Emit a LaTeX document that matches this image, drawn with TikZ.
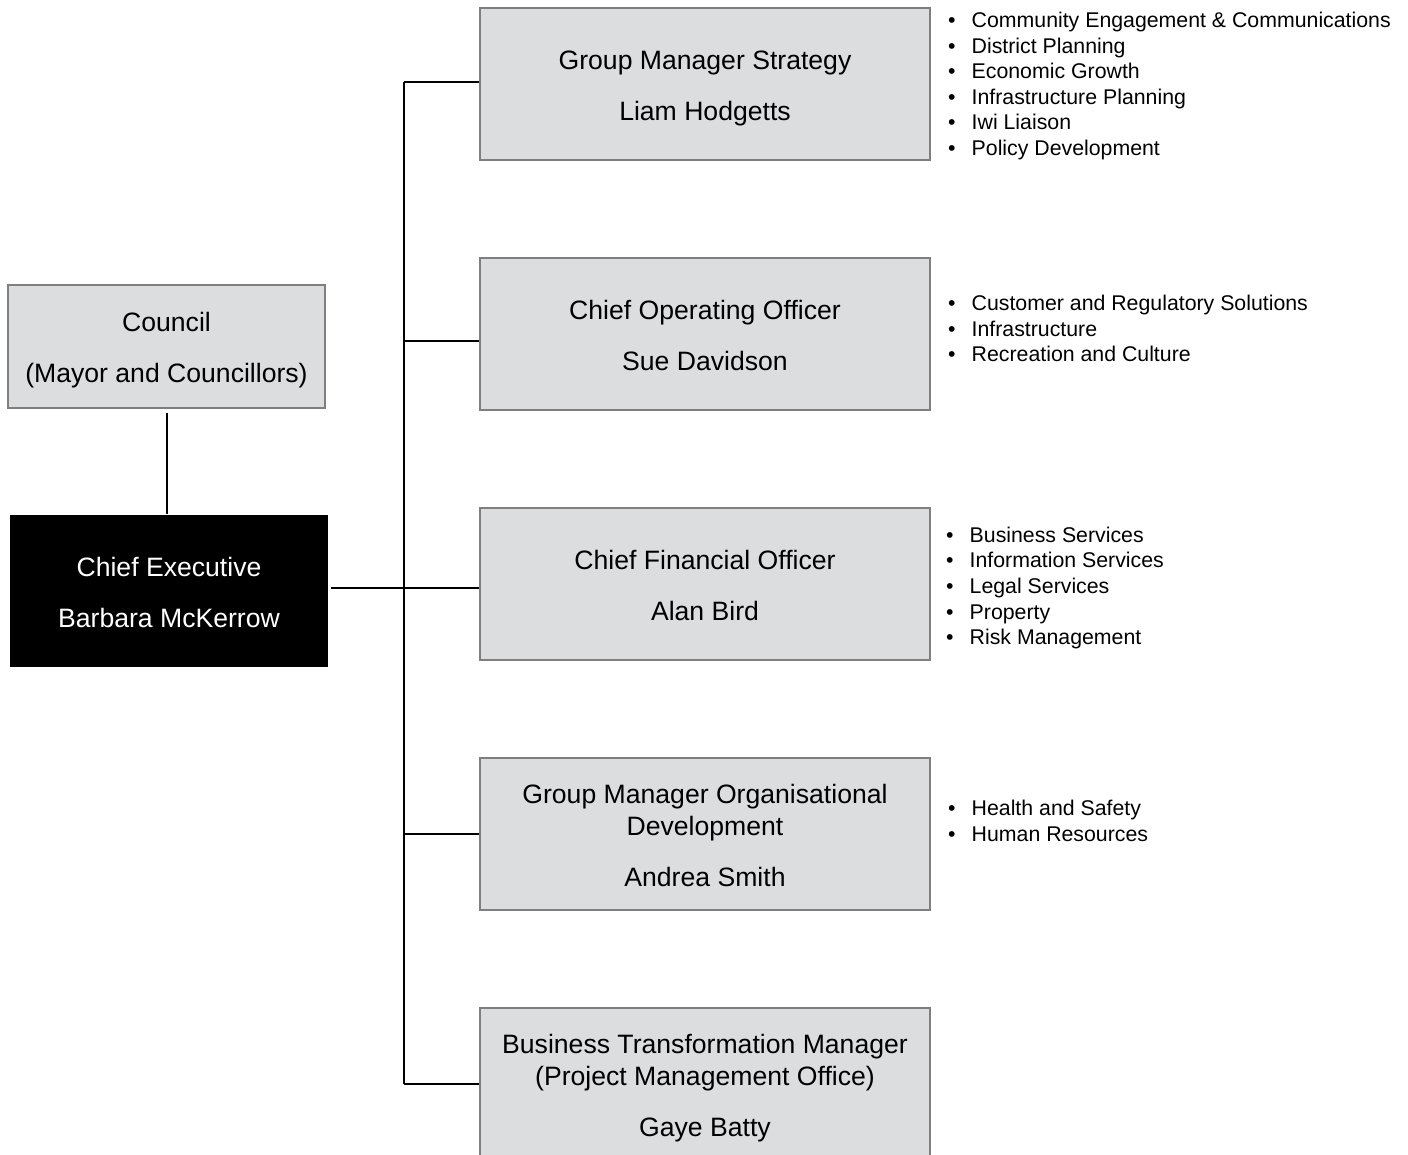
\documentclass[tikz,border=0pt]{standalone}
\usepackage{fontspec}
\setmainfont{Liberation Sans}
\definecolor{boxfill}{HTML}{DCDDDF}
\definecolor{boxline}{HTML}{7F7F7F}
% centred stack of lines, reference point on the first baseline
\newcommand\boxlines[1]{\begin{tabular}[t]{@{}c@{}}#1\end{tabular}}
% bulleted list of portfolio areas
\newcommand\bulletrow[1]{\makebox[23.5pt][l]{\textbullet}#1}
\newcommand\arealist[1]{\begin{tabular}[t]{@{}l@{}}#1\end{tabular}}
\begin{document}
\begin{tikzpicture}[x=1pt,y=-1pt,
  unit/.style={line width=2pt, inner sep=0pt,
    font=\fontsize{26.6}{32}\selectfont, text height=22pt},
  twoline/.style={text depth=51pt},
  threeline/.style={text depth=83pt},
  greybox/.style={unit, draw=boxline, fill=boxfill},
  rightbox/.style={greybox, minimum width=450pt, minimum height=152pt},
  areas/.style={anchor=base west, inner sep=0pt,
    font=\fontsize{21.3}{25.6}\selectfont},
  link/.style={line width=2pt, black}
]
\useasboundingbox (0,0) rectangle (1408,1155);
\clip (0,0) rectangle (1408,1155);

% governance and chief executive
\node[greybox, twoline, minimum width=317pt, minimum height=123pt]
  (council) at (166.5,346.5) {\boxlines{Council\\[19pt](Mayor and Councillors)}};
\node[unit, twoline, fill=black, text=white, minimum width=318pt, minimum height=152pt]
  (ceo) at (169,591) {\boxlines{Chief Executive\\[19pt]Barbara McKerrow}};

% direct reports
\node[rightbox, twoline] (strat) at (705,84)
  {\boxlines{Group Manager Strategy\\[19pt]Liam Hodgetts}};
\node[rightbox, twoline] (coo) at (705,334)
  {\boxlines{Chief Operating Officer\\[19pt]Sue Davidson}};
\node[rightbox, twoline] (cfo) at (705,584)
  {\boxlines{Chief Financial Officer\\[19pt]Alan Bird}};
\node[rightbox, threeline] (orgdev) at (705,834)
  {\boxlines{Group Manager Organisational\\Development\\[19pt]Andrea Smith}};
\node[rightbox, threeline] (btm) at (705,1084)
  {\boxlines{Business Transformation Manager\\(Project Management Office)\\[19pt]Gaye Batty}};

% portfolio areas
\node[areas] (stratareas) at (948,27.5) {\arealist{%
  \bulletrow{Community Engagement \& Communications}\\
  \bulletrow{District Planning}\\
  \bulletrow{Economic Growth}\\
  \bulletrow{Infrastructure Planning}\\
  \bulletrow{Iwi Liaison}\\
  \bulletrow{Policy Development}}};
\node[areas] (cooareas) at (948,310.7) {\arealist{%
  \bulletrow{Customer and Regulatory Solutions}\\
  \bulletrow{Infrastructure}\\
  \bulletrow{Recreation and Culture}}};
\node[areas] (cfoareas) at (946,542.3) {\arealist{%
  \bulletrow{Business Services}\\
  \bulletrow{Information Services}\\
  \bulletrow{Legal Services}\\
  \bulletrow{Property}\\
  \bulletrow{Risk Management}}};
\node[areas] (orgareas) at (948,815.7) {\arealist{%
  \bulletrow{Health and Safety}\\
  \bulletrow{Human Resources}}};

% reporting lines
\coordinate (j1) at (404,82);
\coordinate (j2) at (404,341);
\coordinate (j3) at (404,588);
\coordinate (j4) at (404,834);
\coordinate (j5) at (404,1084);

\draw[link, shorten <=4pt] (council.south) -- (council.south |- ceo.north);
\draw[link] (j1) -- (j5);
\draw[link, shorten <=2pt] (ceo.east |- j3) -- (j3 -| cfo.west);
\draw[link] (j1) -- (j1 -| strat.west);
\draw[link] (j2) -- (j2 -| coo.west);
\draw[link] (j4) -- (j4 -| orgdev.west);
\draw[link] (j5) -- (j5 -| btm.west);
\end{tikzpicture}
\end{document}
